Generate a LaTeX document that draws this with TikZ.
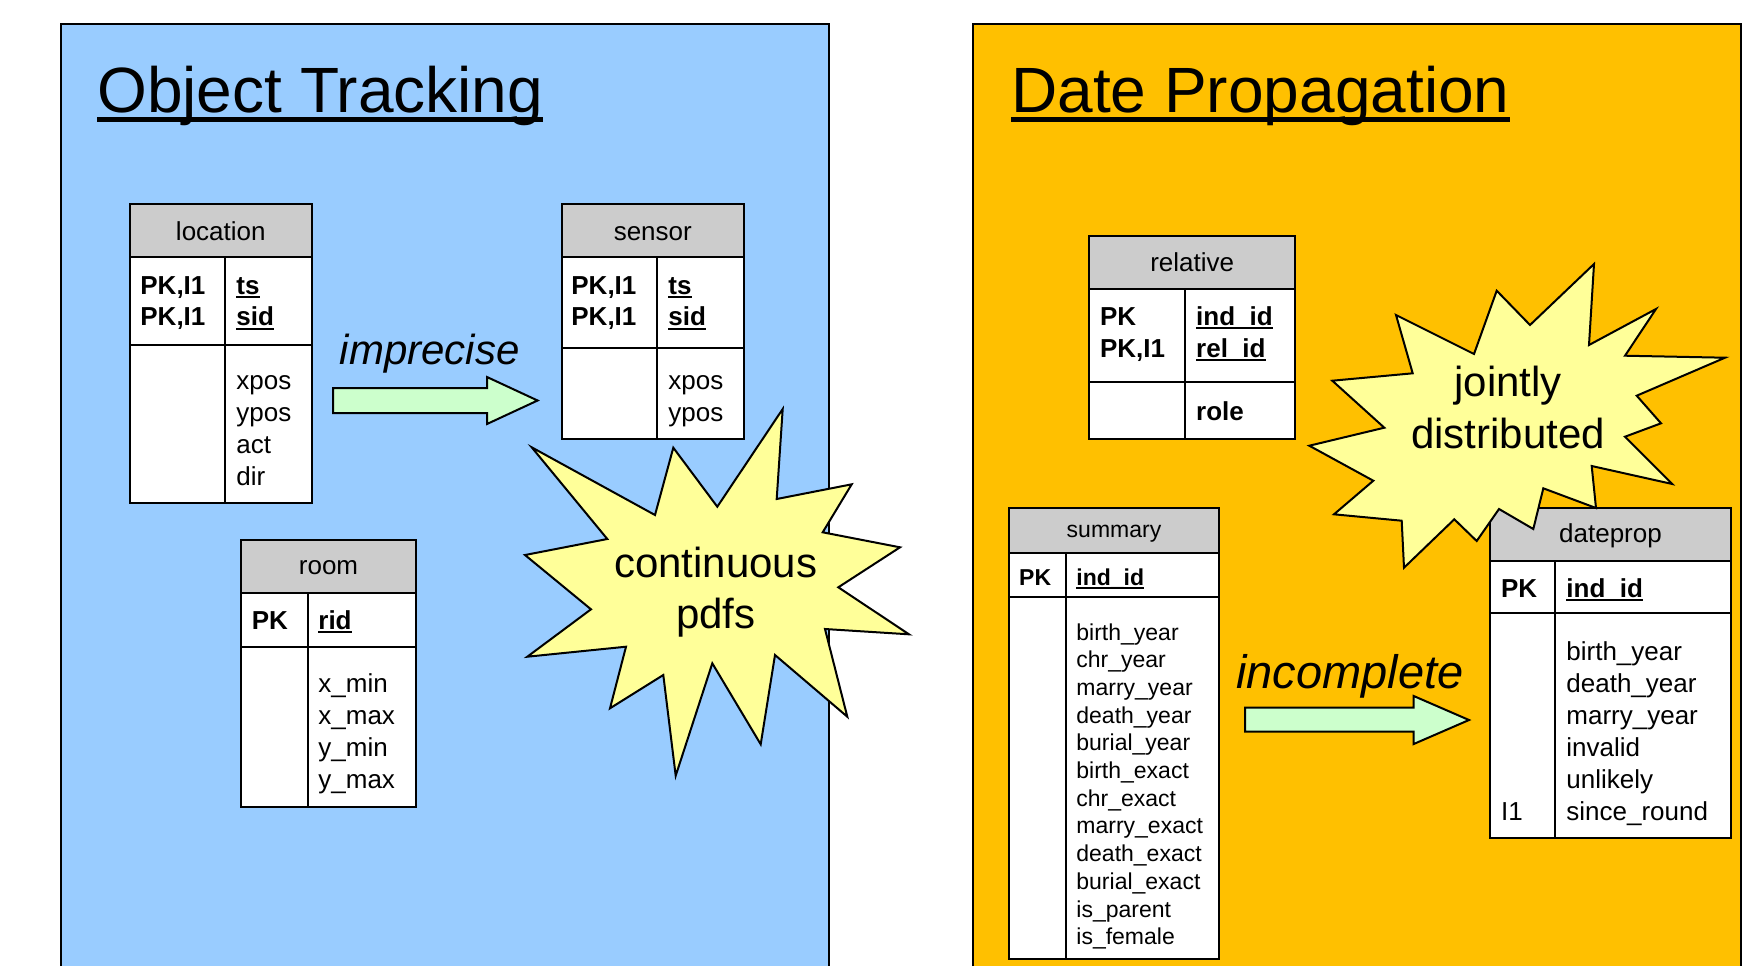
\documentclass[tikz,border=0pt]{standalone}
\usepackage{fontspec}
\setmainfont{Liberation Sans}
\definecolor{panelblue}{HTML}{99CCFF}
\definecolor{panelorange}{HTML}{FFC000}
\definecolor{starfill}{HTML}{FFFF99}
\definecolor{hdrgray}{HTML}{CCCCCC}
\definecolor{arrowgreen}{HTML}{CCFFCC}
% underlined text with a rule scaled to the current font
\newcommand\ulin[1]{\sbox0{#1}\rlap{\rule[-0.16em]{\wd0}{0.075em}}\usebox0}
% entity box: left, right, divider, top, header bottom, key bottom, bottom
\newcommand\erbox[7]{%
  \filldraw[tblline, fill=white] (#1,#4) rectangle (#2,#7);
  \filldraw[tblline, fill=hdrgray] (#1,#4) rectangle (#2,#5);
  \draw[tblline] (#1,#6) -- (#2,#6) (#3,#5) -- (#3,#7);}
\tikzset{
  tblline/.style={draw=black, line width=1pt},
  panelline/.style={draw=black, line width=1pt},
  txt/.style={inner sep=0pt, anchor=base west, yshift=-1pt, font=\fontsize{13pt}{15pt}\selectfont},
  keytxt/.style={txt, font=\fontsize{13pt}{15pt}\selectfont\bfseries},
  hdrtxt/.style={inner sep=0pt, anchor=base, yshift=-0.6pt, font=\fontsize{13pt}{15pt}\selectfont},
  smalltxt/.style={txt, font=\fontsize{11.5pt}{14pt}\selectfont},
  smallkey/.style={txt, font=\fontsize{11.5pt}{14pt}\selectfont\bfseries},
  smallhdr/.style={hdrtxt, font=\fontsize{11.5pt}{14pt}\selectfont},
  titletxt/.style={inner sep=0pt, anchor=base west, font=\fontsize{32pt}{38pt}\selectfont},
  startxt/.style={inner sep=0pt, anchor=base, font=\fontsize{21pt}{25pt}\selectfont},
  arrowtxt/.style={inner sep=0pt, anchor=base west, yshift=-1pt, font=\fontsize{21pt}{25pt}\selectfont\itshape},
  blockarrow/.style={draw=black, line width=1pt, fill=arrowgreen, line join=miter},
  burst/.style={draw=black, line width=1pt, fill=starfill, line join=miter},
}
\begin{document}
\begin{tikzpicture}[x=0.5pt, y=-0.5pt]
\useasboundingbox (0,0) rectangle (1762,966);
\fill[white] (0,0) rectangle (1762,966);

% ---------------- Object Tracking panel ----------------
\fill[panelblue] (61,24) rectangle (829,966);
\draw[panelline] (61,966) -- (61,24) -- (829,24) -- (829,966);
\node[titletxt] (ot-title) at (97,112) {\ulin{Object Tracking}};

% location
\erbox{129.6}{312}{225}{204}{257}{345}{502.7}
\node[hdrtxt] (loc-h) at (220.8,239) {location};
\node[keytxt] (loc-k1) at (140,292) {PK,I1};
\node[keytxt] (loc-k2) at (140,323.7) {PK,I1};
\node[keytxt] (loc-a1) at (236,292) {\ulin{ts}};
\node[keytxt] (loc-a2) at (236,323.7) {\ulin{sid}};
\foreach \t [count=\i from 0] in {xpos,ypos,act,dir}
  \node[txt, name=loc-f\i] at (236,387+32.3*\i) {\t};

% sensor
\erbox{561.7}{744}{657}{204}{257}{348}{439}
\node[hdrtxt] (sen-h) at (652.8,239) {sensor};
\node[keytxt] (sen-k1) at (571,292) {PK,I1};
\node[keytxt] (sen-k2) at (571,323.7) {PK,I1};
\node[keytxt] (sen-a1) at (668,292) {\ulin{ts}};
\node[keytxt] (sen-a2) at (668,323.7) {\ulin{sid}};
\node[txt] (sen-f0) at (668,387) {xpos};
\node[txt] (sen-f1) at (668,419.3) {ypos};

% room
\erbox{241}{416}{307.5}{540}{593}{647}{807}
\node[hdrtxt] (room-h) at (328.5,573) {room};
\node[keytxt] (room-k1) at (251.4,627) {PK};
\node[keytxt] (room-a1) at (318,627) {\ulin{rid}};
\foreach \t [count=\i from 0] in {x\_min,x\_max,y\_min,y\_max}
  \node[txt, name=room-f\i] at (318,690+32.3*\i) {\t};

% imprecise arrow
\node[arrowtxt] (lbl-imprecise) at (339.5,362) {imprecise};
\draw[blockarrow] (333,388) -- (487,388) -- (487,377) -- (537.6,400.5)
  -- (487,424) -- (487,413) -- (333,413) -- cycle;

% continuous pdfs burst
\draw[burst] (531.7,447.3) -- (655,515) -- (673.3,447.7) -- (717.3,506.7)
  -- (782.7,409) -- (776.7,499) -- (851.7,484.3) -- (822.7,532.3)
  -- (900,547.3) -- (838.3,587.3) -- (909,634.3) -- (825,629)
  -- (847.3,716.7) -- (775,655) -- (760.7,744.3) -- (712.3,663.3)
  -- (675.7,775.7) -- (663.3,675) -- (610,708.3) -- (626,646.7)
  -- (527.3,656.7) -- (591,609.3) -- (525,555) -- (607.3,539) -- cycle;
\node[startxt] (burst1-a) at (715.7,577.5) {continuous};
\node[startxt] (burst1-b) at (715.7,628.5) {pdfs};

% ---------------- Date Propagation panel ----------------
\fill[panelorange] (973,24) rectangle (1741,966);
\draw[panelline] (973,966) -- (973,24) -- (1741,24) -- (1741,966);
\node[titletxt] (dp-title) at (1011,112) {\ulin{Date Propagation}};

% relative
\erbox{1089.4}{1295}{1185}{236}{288.7}{382}{438.7}
\node[hdrtxt] (rel-h) at (1192.2,270) {relative};
\node[keytxt] (rel-k1) at (1099.6,323) {PK};
\node[keytxt] (rel-k2) at (1099.6,355) {PK,I1};
\node[keytxt] (rel-a1) at (1195.8,323) {\ulin{ind\_id}};
\node[keytxt] (rel-a2) at (1195.8,355) {\ulin{rel\_id}};
\node[keytxt] (rel-f0) at (1195.8,418) {role};

% summary
\erbox{1009}{1219}{1066}{507.7}{553}{596.7}{959}
\node[smallhdr] (sum-h) at (1114,536) {summary};
\node[smallkey] (sum-k1) at (1018.8,583) {PK};
\node[smallkey] (sum-a1) at (1076,583) {\ulin{ind\_id}};
\foreach \t [count=\i from 0] in {birth\_year,chr\_year,marry\_year,death\_year,
    burial\_year,birth\_exact,chr\_exact,marry\_exact,death\_exact,
    burial\_exact,is\_parent,is\_female}
  \node[smalltxt, name=sum-f\i] at (1076,638+27.7*\i) {\t};

% dateprop
\erbox{1490}{1731}{1555}{508}{560.7}{613}{838}
\node[hdrtxt] (dp-h) at (1610.5,541.7) {dateprop};
\node[keytxt] (dp-k1) at (1500.7,595) {PK};
\node[keytxt] (dp-a1) at (1566,595) {\ulin{ind\_id}};
\foreach \t [count=\i from 0] in {birth\_year,death\_year,marry\_year,invalid,unlikely,since\_round}
  \node[txt, name=dp-f\i] at (1566,658+32*\i) {\t};
\node[txt] (dp-i1) at (1500.7,818) {I1};

% jointly distributed burst
\draw[burst] (1396,315) -- (1474,354) -- (1496.7,290.7) -- (1530,325)
  -- (1594,264) -- (1589,345) -- (1656,309) -- (1625,355.7)
  -- (1725,357.7) -- (1636.7,395.7) -- (1661,423.3) -- (1625,436.7)
  -- (1672.3,484) -- (1591.7,466) -- (1596,508) -- (1543.3,488.3)
  -- (1533.3,529) -- (1499,509) -- (1476.7,541) -- (1454.3,519.3)
  -- (1404,567.7) -- (1401.7,520.7) -- (1334,514.3) -- (1373.3,480.7)
  -- (1309.3,445.7) -- (1384.3,427.7) -- (1332.3,380.7) -- (1412.7,373.3) -- cycle;
\node[startxt] (burst2-a) at (1508,396.5) {jointly};
\node[startxt] (burst2-b) at (1508,448) {distributed};

% incomplete arrow
\node[arrowtxt, font=\fontsize{23.5pt}{28pt}\selectfont\itshape] (lbl-incomplete) at (1236,686.7) {incomplete};
\draw[blockarrow] (1245,707.7) -- (1413.7,707.7) -- (1413.7,696) -- (1469,720)
  -- (1413.7,744) -- (1413.7,731.7) -- (1245,731.7) -- cycle;
\end{tikzpicture}
\end{document}
